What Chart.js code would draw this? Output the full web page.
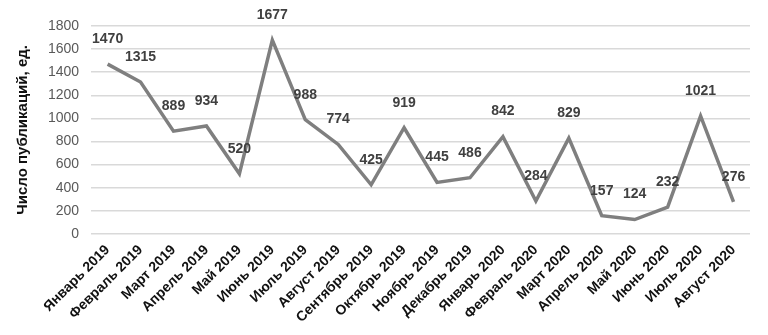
<!DOCTYPE html>
<html><head><meta charset="utf-8">
<script src="https://cdn.jsdelivr.net/npm/chart.js@4"></script>
<style>html,body{margin:0;padding:0;background:#fff}#w{width:768px;height:335px}</style>
</head><body><div id="w"><canvas id="c"></canvas></div>
<script>
const categories = ["Январь 2019","Февраль 2019","Март 2019","Апрель 2019","Май 2019","Июнь 2019","Июль 2019","Август 2019","Сентябрь 2019","Октябрь 2019","Ноябрь 2019","Декабрь 2019","Январь 2020","Февраль 2020","Март 2020","Апрель 2020","Май 2020","Июнь 2020","Июль 2020","Август 2020"];
const publications = [1470,1315,889,934,520,1677,988,774,425,919,445,486,842,284,829,157,124,232,1021,276];
const yTicks = [0,200,400,600,800,1000,1200,1400,1600,1800];

const labelPlugin = {
  id:'vlabels',
  afterDatasetsDraw(chart){
    const ctx = chart.ctx;
    const meta = chart.getDatasetMeta(0);
    ctx.save();
    ctx.font = 'bold 14px "Liberation Sans", Arial, sans-serif';
    ctx.fillStyle = '#404040';
    ctx.textAlign = 'center';
    ctx.textBaseline = 'middle';
    meta.data.forEach((pt,i)=>{
      ctx.fillText(String(publications[i]), pt.x, pt.y - 25);
    });
    ctx.restore();
  }
};

new Chart(document.getElementById('c'), {
  type:'line',
  data:{labels:categories, datasets:[{data:publications, borderColor:'#7f7f7f', borderWidth:3.5, pointRadius:0, tension:0, fill:false}]},
  options:{
    responsive:true, maintainAspectRatio:false, animation:false,
    layout:{padding:{top:26,right:18,left:14,bottom:9}},
    plugins:{legend:{display:false}, tooltip:{enabled:false}},
    scales:{
      x:{offset:true, grid:{display:false}, border:{display:false},
         ticks:{autoSkip:false, maxRotation:45, minRotation:45, color:'#111', padding:0,
           font:{family:'"Liberation Sans", Arial, sans-serif', size:14, weight:'bold'}}},
      y:{min:0, max:1800, afterBuildTicks(ax){ax.ticks = yTicks.map(v=>({value:v}));},
         grid:{color:'#d9d9d9', lineWidth:1.5, drawTicks:false}, border:{display:false},
         ticks:{color:'#595959', padding:12, callback:v=>String(v), font:{family:'"Liberation Sans", Arial, sans-serif', size:14}},
         title:{display:true, text:'Число публикаций, ед.', color:'#111', padding:{top:0,bottom:4},
           font:{family:'"Liberation Sans", Arial, sans-serif', size:15, weight:'bold'}}}
    }
  },
  plugins:[labelPlugin]
});
</script></body></html>
